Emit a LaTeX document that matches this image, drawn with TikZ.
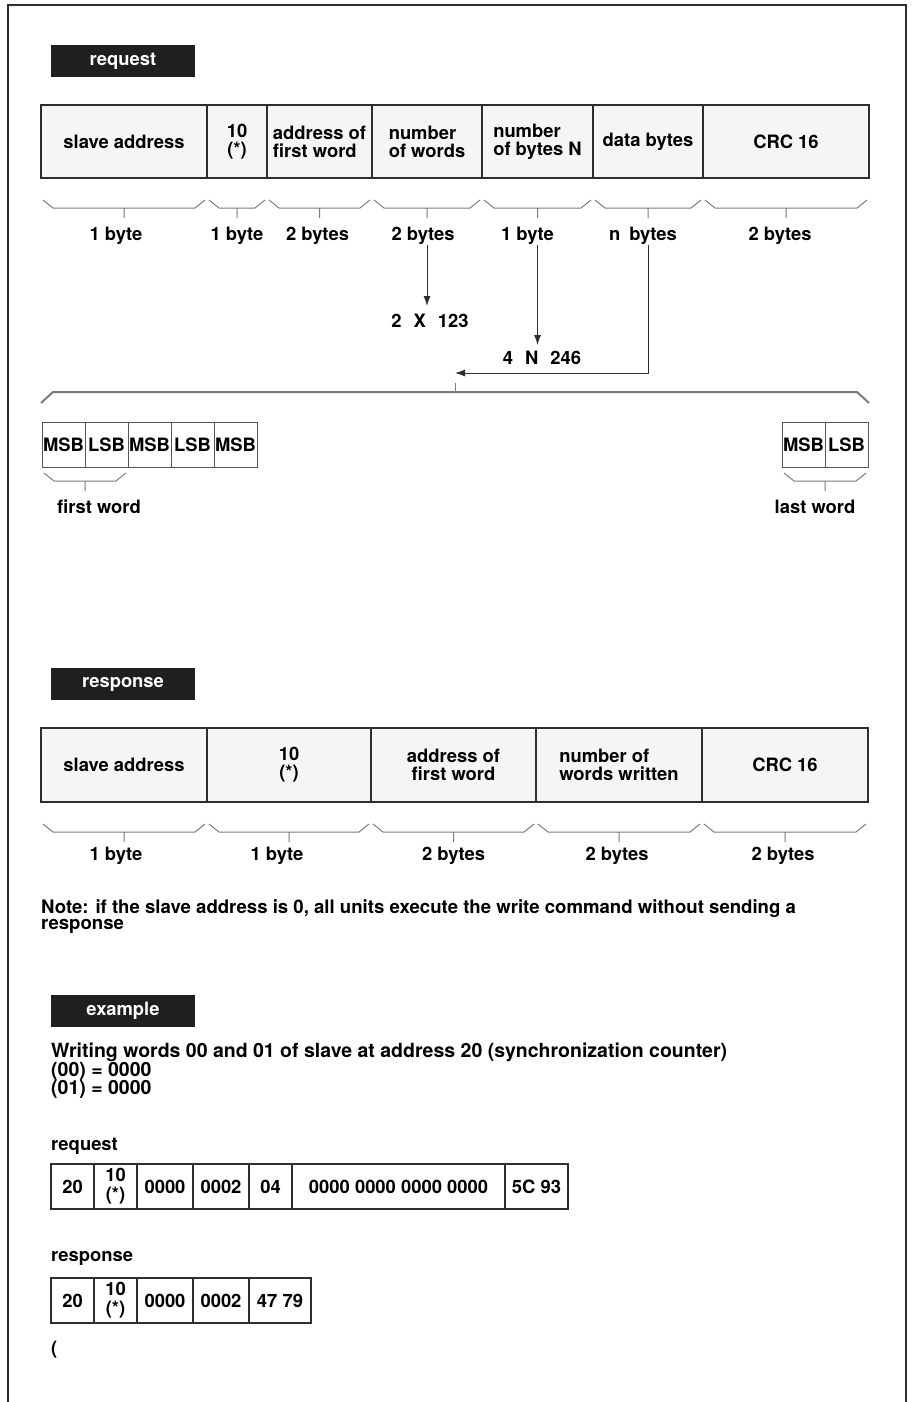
\documentclass[tikz,border=0pt]{standalone}
\usepackage{fontspec}
\setmainfont{TeX Gyre Heros}
\usepackage{xcolor}
\usepackage{tikz}
\usetikzlibrary{positioning,arrows.meta,calc}
\definecolor{ink}{HTML}{2E2E2E}
\definecolor{tagbg}{HTML}{1E1F21}
\definecolor{cellbg}{HTML}{F4F5F4}
\definecolor{bracegray}{HTML}{7A7A7A}
\newcommand\pktfont{\fontsize{18.4}{18}\selectfont\bfseries}
\tikzset{
  tag/.style={
    fill=tagbg, text=white, minimum width=144pt, minimum height=32pt,
    inner sep=0pt, font=\pktfont},
  field/.style={
    draw=ink, line width=1.2pt, fill=cellbg, minimum height=73pt,
    inner sep=0pt, outer sep=0pt, align=center, font=\pktfont},
  bytebox/.style={
    draw=bracegray!70!black, line width=1pt, fill=white, minimum width=43pt,
    minimum height=45pt, inner sep=0pt, outer sep=0pt, font=\pktfont},
  hexcell/.style={
    draw=ink, line width=1.3pt, fill=white, minimum height=45pt,
    inner sep=0pt, outer sep=0pt, align=center,
    font=\fontsize{18.4}{19}\selectfont\bfseries},
  plain/.style={inner sep=0pt, font=\pktfont},
  bytebrace/.style={
    draw=bracegray, line width=1pt,
    to path={($(\tikztostart)+(2,#1)$) -- ++(10,8)
      -- ($(\tikztotarget)+(-12,#1+8)$) -- ++(10,-8)
      ($(\tikztostart)!.5!(\tikztotarget)+(0,#1+8)$) -- ++(0,10)}},
  bytebrace/.default=22,
  bigbrace/.style={draw=bracegray, line width=2pt},
  flow/.style={draw=ink, line width=1pt, -{Latex[length=10pt,width=7pt]}},
}

\begin{document}
\begin{tikzpicture}[x=1pt, y=-1pt]
  \useasboundingbox (0,0) rectangle (913,1402);
  \draw[ink, line width=1.5pt] (8,1402) -- (8,5) -- (906,5) -- (906,1402);

  % request frame
  \node[tag] (tagrq) at (123,61) {request};
  \node[field, anchor=north west, minimum width=166pt] (rq1) at (41,105) {slave address};
  \node[field, right=0pt of rq1, minimum width=60pt] (rq2) {10\\(*)};
  \node[field, right=0pt of rq2, minimum width=105pt, align=left] (rq3) {address of\\first word};
  \node[field, right=0pt of rq3, minimum width=110pt, align=left] (rq4) {number\\of words};
  \node[field, right=0pt of rq4, minimum width=111pt, align=left] (rq5) {number\\of bytes N};
  \node[field, right=0pt of rq5, minimum width=110pt] (rq6) {data bytes};
  \node[field, right=0pt of rq6, minimum width=166pt] (rq7) {CRC 16};

  \draw[bytebrace] (rq1.south west) to (rq1.south east);
  \draw[bytebrace] (rq2.south west) to (rq2.south east);
  \draw[bytebrace] (rq3.south west) to (rq3.south east);
  \draw[bytebrace] (rq4.south west) to (rq4.south east);
  \draw[bytebrace] (rq5.south west) to (rq5.south east);
  \draw[bytebrace] (rq6.south west) to (rq6.south east);
  \draw[bytebrace] (rq7.south west) to (rq7.south east);

  \node[plain, below=49pt of rq1, xshift=-8pt] (lb1) {1 byte};
  \node[plain, below=49pt of rq2] (lb2) {1 byte};
  \node[plain, below=49pt of rq3, xshift=-2pt] (lb3) {2 bytes};
  \node[plain, below=49pt of rq4, xshift=-4pt] (lb4) {2 bytes};
  \node[plain, below=49pt of rq5, xshift=-10pt] (lb5) {1 byte};
  \node[plain, below=49pt of rq6, xshift=-5pt] (lb6) {n\hspace{9pt}bytes};
  \node[plain, below=49pt of rq7, xshift=-6pt] (lb7) {2 bytes};

  % limits
  \node[plain] (mulx) at (430,321) {2\hspace{12pt}X\hspace{12pt}123};
  \node[plain] (muln) at (542,358) {4\hspace{12pt}N\hspace{12pt}246};
  \draw[flow, shorten >=8pt] (lb4.south -| rq4.south) -- (rq4.south |- mulx.north);
  \draw[flow, shorten >=6pt] (lb5.south -| rq5.south) -- (rq5.south |- muln.north);

  % data bytes
  \node[bytebox, anchor=north west] (mb1) at (42,422) {MSB};
  \node[bytebox, right=0pt of mb1] (mb2) {LSB};
  \node[bytebox, right=0pt of mb2] (mb3) {MSB};
  \node[bytebox, right=0pt of mb3] (mb4) {LSB};
  \node[bytebox, right=0pt of mb4] (mb5) {MSB};
  \node[bytebox, anchor=north west] (ml1) at (782,422) {MSB};
  \node[bytebox, right=0pt of ml1] (ml2) {LSB};

  \draw[bigbrace] ($(mb1.north west)+(-1,-19)$) -- ++(12,-11)
    -- ($(ml2.north east)+(-11,-30)$) -- ++(12,11);
  \draw[bigbrace, line width=1pt] ($(mb1.north west)!.5!(ml2.north east)+(0,-30)$)
    -- ++(0,-9) coordinate (dtick);
  \coordinate (dtip) at ($(dtick)+(0,-10)$);
  \draw[flow] (lb6.south -| rq6.south) |- (dtip);

  \draw[bytebrace=6] (mb1.south west) to (mb2.south east);
  \draw[bytebrace=6] (ml1.south west) to (ml2.south east);
  \node[plain] (fword) at (99,507) {first word};
  \node[plain] (lword) at (815,507) {last word};

  % response frame
  \node[tag] (tagrs) at (123,684) {response};
  \node[field, anchor=north west, minimum width=166pt, minimum height=74pt] (rs1) at (41,728) {slave address};
  \node[field, right=0pt of rs1, minimum width=164pt, minimum height=74pt] (rs2) {10\\(*)};
  \node[field, right=0pt of rs2, minimum width=165pt, minimum height=74pt] (rs3) {address of\\first word};
  \node[field, right=0pt of rs3, minimum width=166pt, minimum height=74pt, align=left] (rs4) {number of\\words written};
  \node[field, right=0pt of rs4, minimum width=166pt, minimum height=74pt] (rs5) {CRC 16};

  \draw[bytebrace] (rs1.south west) to (rs1.south east);
  \draw[bytebrace] (rs2.south west) to (rs2.south east);
  \draw[bytebrace] (rs3.south west) to (rs3.south east);
  \draw[bytebrace] (rs4.south west) to (rs4.south east);
  \draw[bytebrace] (rs5.south west) to (rs5.south east);

  \node[plain, below=45pt of rs1, xshift=-8pt] (lr1) {1 byte};
  \node[plain, below=45pt of rs2, xshift=-12pt] (lr2) {1 byte};
  \node[plain, below=45pt of rs3] (lr3) {2 bytes};
  \node[plain, below=45pt of rs4, xshift=-2pt] (lr4) {2 bytes};
  \node[plain, below=45pt of rs5, xshift=-2pt] (lr5) {2 bytes};

  \node[plain, anchor=west, align=left, font=\fontsize{18.6}{16}\selectfont\bfseries] (note) at (41,917)
    {Note: if the slave address is 0, all units execute the write command without sending a\\response};

  % example
  \node[tag] (tagex) at (123,1011) {example};
  \node[plain, anchor=west, align=left, font=\fontsize{19.5}{18.5}\selectfont\bfseries] (desc) at (51,1071)
    {Writing words 00 and 01 of slave at address 20 (synchronization counter)\\(00) = 0000\\(01) = 0000};

  \node[plain, anchor=west] (exrq) at (51,1146) {request};
  \node[hexcell, anchor=north west, minimum width=43pt] (ex1) at (51,1164) {20};
  \node[hexcell, right=0pt of ex1, minimum width=43pt] (ex2) {10\\(*)};
  \node[hexcell, right=0pt of ex2, minimum width=56pt] (ex3) {0000};
  \node[hexcell, right=0pt of ex3, minimum width=56pt] (ex4) {0002};
  \node[hexcell, right=0pt of ex4, minimum width=43pt] (ex5) {04};
  \node[hexcell, right=0pt of ex5, minimum width=213pt] (ex6) {0000 0000 0000 0000};
  \node[hexcell, right=0pt of ex6, minimum width=63pt] (ex7) {5C 93};

  \node[plain, anchor=west] (exrs) at (51,1258) {response};
  \node[hexcell, anchor=north west, minimum width=43pt] (ey1) at (51,1278) {20};
  \node[hexcell, right=0pt of ey1, minimum width=43pt] (ey2) {10\\(*)};
  \node[hexcell, right=0pt of ey2, minimum width=56pt] (ey3) {0000};
  \node[hexcell, right=0pt of ey3, minimum width=56pt] (ey4) {0002};
  \node[hexcell, right=0pt of ey4, minimum width=62pt] (ey5) {47 79};

  \node[plain, anchor=west] (paren) at (51,1350) {(};

\end{tikzpicture}
\end{document}
